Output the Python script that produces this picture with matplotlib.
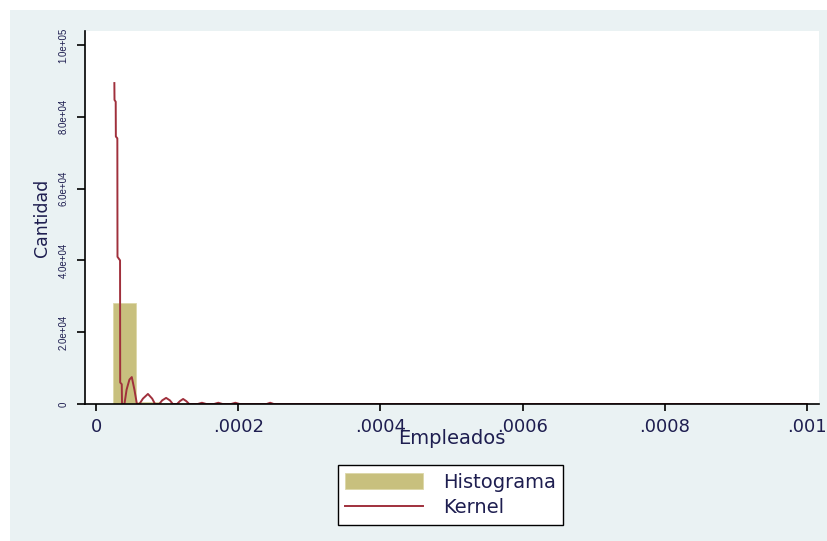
import numpy as np
import matplotlib
matplotlib.use("Agg")
import matplotlib.pyplot as plt

# Histogram bins (start, width) and heights
BIN_START = 0.000024
BIN_WIDTH = 0.0000325
hist_heights = [28000, 450, 380, 350, 330, 320, 310, 300, 300, 300,
                300, 300, 300, 300, 300, 300, 300, 300, 300, 300,
                300, 300, 300, 300, 300, 300, 300, 300, 300, 300]

# Kernel curve
kernel_x = [2.58e-5, 2.60e-5, 2.77e-5, 2.79e-5, 3.00e-5, 3.02e-5, 3.38e-5, 3.40e-5,
            3.62e-5, 3.66e-5, 4.00e-5, 4.30e-5, 4.70e-5, 5.03e-5, 5.40e-5, 5.75e-5,
            6.10e-5, 6.60e-5, 7.30e-5, 7.90e-5, 8.30e-5, 8.90e-5, 9.30e-5, 9.86e-5,
            1.04e-4, 1.08e-4, 1.14e-4, 1.18e-4, 1.225e-4, 1.27e-4, 1.31e-4, 1.43e-4,
            1.49e-4, 1.55e-4, 1.66e-4, 1.72e-4, 1.78e-4, 1.90e-4, 1.96e-4, 2.02e-4,
            2.40e-4, 2.45e-4, 2.50e-4, 1.0e-3]
kernel_y = [89400, 84700, 84200, 74500, 74000, 41000, 40000, 6000,
            5500, 0, 0, 4000, 6800, 7500, 4000, 0,
            0, 1500, 2800, 1500, 0, 0, 1000, 1700,
            1000, 0, 0, 800, 1400, 800, 0, 0,
            350, 0, 0, 350, 0, 0, 350, 0,
            0, 350, 0, 0]

x_ticks = [0, 0.0002, 0.0004, 0.0006, 0.0008, 0.001]
x_tick_labels = ["0", ".0002", ".0004", ".0006", ".0008", ".001"]
y_ticks = [0, 20000, 40000, 60000, 80000, 100000]
y_tick_labels = ["0", "2.0e+04", "4.0e+04", "6.0e+04", "8.0e+04", "1.0e+05"]

TEXT = "#1e1e50"
BG = "#eaf2f3"
OLIVE = "#c8c07e"
MAROON = "#a0303c"

plt.rcParams['font.family'] = ['DejaVu Sans']

W, H = 827, 541
fig = plt.figure(figsize=(W / 100, H / 100), dpi=100, facecolor="white")

# light grey-blue graph region, white strip at top and left
bg = fig.add_axes([10 / W, 0, 1 - 10 / W, 1 - 10 / H], zorder=-1)
bg.set_facecolor(BG)
bg.set_xticks([])
bg.set_yticks([])
for s in bg.spines.values():
    s.set_visible(False)

ax = fig.add_axes([85 / W, (H - 404) / H, (819 - 85) / W, (404 - 31) / H])
ax.set_facecolor("white")

edges = BIN_START + BIN_WIDTH * np.arange(len(hist_heights))
bars = ax.bar(edges, hist_heights, width=BIN_WIDTH, align="edge", color=OLIVE,
              edgecolor="#dcd7a8", linewidth=0.6, zorder=1)
line, = ax.plot(kernel_x, kernel_y, color=MAROON, linewidth=1.4, zorder=2)

ax.set_xlim(-0.0000155, 0.001017)
ax.set_ylim(0, 103900)

for s in ["top", "right"]:
    ax.spines[s].set_visible(False)
for s in ["left", "bottom"]:
    ax.spines[s].set_linewidth(1.2)
    ax.spines[s].set_color("black")
    ax.spines[s].set_zorder(3)

ax.set_xticks(x_ticks)
ax.set_xticklabels(x_tick_labels, fontsize=13, color=TEXT)
ax.set_yticks(y_ticks)
ax.set_yticklabels(y_tick_labels, fontsize=7, color=TEXT, rotation=90,
                   va="center", family="Liberation Sans")
ax.tick_params(axis="x", length=5, width=1.2, pad=5)
ax.tick_params(axis="y", length=6, width=1.2, pad=6)

ax.set_xlabel("Empleados", fontsize=14, color=TEXT)
ax.xaxis.set_label_coords(0.5, -0.068)
ax.set_ylabel("Cantidad", fontsize=12.5, color=TEXT)
ax.yaxis.set_label_coords(-0.046, 0.5)

leg = fig.legend([bars, line], ["Histograma", "Kernel"], loc="center",
                 bbox_to_anchor=(450.5 / W, 1 - 495 / H),
                 fontsize=14, frameon=True, fancybox=False, framealpha=1,
                 facecolor="white",
                 handlelength=4.0, handleheight=0.95, handletextpad=1.0,
                 labelspacing=0.35, borderpad=0.4)
leg.get_frame().set_edgecolor("black")
leg.get_frame().set_linewidth(1.0)
for t in leg.get_texts():
    t.set_color(TEXT)

fig.savefig("out.png", dpi=100, facecolor=fig.get_facecolor())
